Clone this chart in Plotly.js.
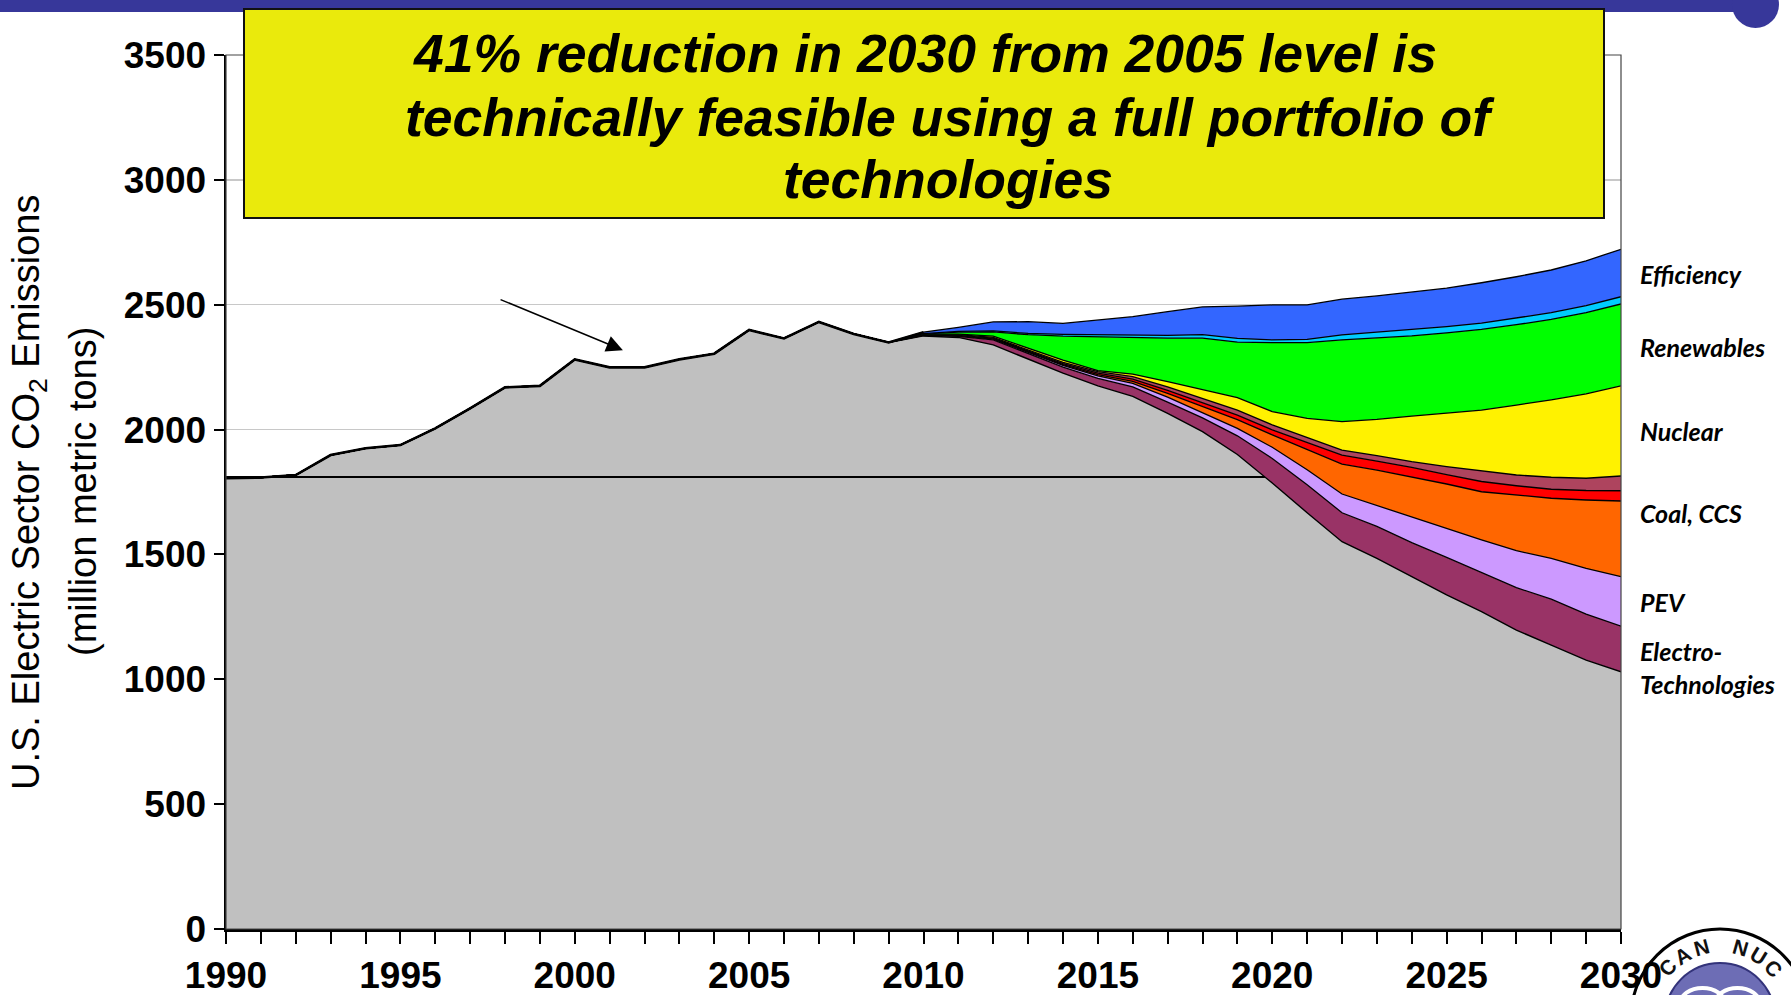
<!DOCTYPE html>
<html>
<head>
<meta charset="utf-8">
<script src="https://cdn.plot.ly/plotly-3.0.1.min.js"></script>
<style>
html,body{margin:0;padding:0;background:#fff;}
#chart{width:1791px;height:995px;}
</style>
</head>
<body>
<div id="chart"></div>
<script>
// ---------------- DATA ----------------
const years = [1990,1991,1992,1993,1994,1995,1996,1997,1998,1999,2000,2001,2002,2003,2004,2005,2006,2007,2008,2009,
               2010,2011,2012,2013,2014,2015,2016,2017,2018,2019,2020,2021,2022,2023,2024,2025,2026,2027,2028,2029,2030];
const projYears = [2010,2011,2012,2013,2014,2015,2016,2017,2018,2019,2020,2021,2022,2023,2024,2025,2026,2027,2028,2029,2030];

// remaining U.S. electric sector CO2 emissions (million metric tons)
const remaining = [1805,1808,1818,1898,1925,1938,2005,2085,2169,2175,2281,2249,2249,2281,2304,2399,2365,2431,2383,2349,
                   2375,2369,2339,2281,2226,2175,2133,2065,1992,1900,1786,1667,1551,1484,1411,1338,1271,1197,1137,1077,1030];

// reductions by technology, 2010-2030 (million metric tons)
const electroTech  = [2,4,20,22,24,30,38,45,55,75,98,112,116,128,136,150,156,170,184,184,183];
const pev          = [1,2,3,5,7,10,14,20,22,30,45,60,75,84,102,117,131,148,163,183,198];
const ccs          = [1,1,2,3,3,5,8,15,22,35,50,82,120,142,162,177,193,223,241,274,303];
const advancedCoal = [1,2,2,4,4,6,9,12,15,18,20,27,36,36,38,38,41,37,36,38,41];
const fossilEff    = [1,2,3,4,5,6,10,14,18,20,20,20,20,22,23,32,44,43,48,49,59];
const nuclear      = [1,2,5,6,9,4,10,21,35,50,53,77,114,145,182,213,242,280,310,338,361];
const renewables   = [1,8,17,55,96,135,148,174,207,222,276,303,327,326,321,322,323,322,322,325,328];
const distributed  = [1,3,4,5,7,8,9,11,14,15,11,13,20,22,24,25,25,26,27,28,29];
const efficiency   = [6,16,36,47,44,60,73,95,111,129,140,138,143,146,153,154,162,166,171,180,190];

const level1990 = 1810;

const xTickVals = [1990,1995,2000,2005,2010,2015,2020,2025,2030];
const xTickText = ['1990','1995','2000','2005','2010','2015','2020','2025','2030'];
const yTickVals = [0,500,1000,1500,2000,2500,3000,3500];
const yTickText = ['0','500','1000','1500','2000','2500','3000','3500'];

const titleLines = ['41% reduction in 2030 from 2005 level is',
                    'technically feasible using a full portfolio of',
                    'technologies'];
const sideLabels = ['Efficiency','Renewables','Nuclear','Coal, CCS','PEV','Electro-<br>Technologies'];
const yTitleLines = ['U.S. Electric Sector CO<sub>2</sub> Emissions', '(million metric tons)'];
const logoText = 'CAN NUC';

// ---------------- LAYOUT HELPERS ----------------
const W = 1791, H = 995, ML = 226, MR = 170, MT = 55, MB = 66;
const PW = W - ML - MR, PH = H - MT - MB;
const px2x = p => (p - ML) / PW;
const py2y = p => (H - MB - p) / PH;
const FONT = 'Liberation Sans, Arial, Helvetica, sans-serif';
const LABFONT = 'Lato, Carlito, Calibri, sans-serif';

// ---------------- TRACES ----------------
const layerDefs = [
  {name:'Electro-Technologies', y: electroTech,  color:'#993366'},
  {name:'PEV',                  y: pev,          color:'#CC99FF'},
  {name:'CCS',                  y: ccs,          color:'#FF6600'},
  {name:'Advanced Coal',        y: advancedCoal, color:'#FF0000'},
  {name:'Fossil Efficiency',    y: fossilEff,    color:'#AE445E'},
  {name:'Nuclear',              y: nuclear,      color:'#FFF200'},
  {name:'Renewables',           y: renewables,   color:'#00FF00'},
  {name:'Distributed Resources',y: distributed,  color:'#00CCFF'},
  {name:'Efficiency',           y: efficiency,   color:'#3366FF'}
];

const traces = [];
traces.push({
  type:'scatter', mode:'lines', name:'Remaining emissions',
  x: years, y: remaining, stackgroup:'s', stackgaps:'infer zero',
  fillcolor:'#C0C0C0', line:{color:'#000', width:1.4}, hoverinfo:'x+y'
});
layerDefs.forEach(d => {
  traces.push({
    type:'scatter', mode:'lines', name:d.name,
    x: projYears, y: d.y, stackgroup:'s',
    fillcolor:d.color, line:{color:'#000', width:1.3}, hoverinfo:'x+y+name'
  });
});

// thick history outline
const histIdx = years.indexOf(2010);
traces.push({
  type:'scatter', mode:'lines', name:'History',
  x: years.slice(0, histIdx + 1),
  y: remaining.slice(0, histIdx).concat([remaining[histIdx] + layerDefs.reduce((s,d)=>s+d.y[0],0)]),
  line:{color:'#000', width:2.6}, hoverinfo:'skip', showlegend:false
});

// 1990-level reference line, visible until the remaining emissions cross it
let crossX = years[years.length-1];
for (let i = histIdx; i < years.length - 1; i++) {
  if (remaining[i] >= level1990 && remaining[i+1] < level1990) {
    crossX = years[i] + (remaining[i] - level1990) / (remaining[i] - remaining[i+1]);
    break;
  }
}
traces.push({
  type:'scatter', mode:'lines', name:'1990 level',
  x:[years[0], crossX], y:[level1990, level1990],
  line:{color:'#000', width:2}, hoverinfo:'skip', showlegend:false
});

// ---------------- ANNOTATIONS ----------------
const annotations = [];
const titleX = [px2x(925), px2x(950), px2x(948)];
const titleY = [py2y(54), py2y(117), py2y(179)];
titleLines.forEach((t,i) => {
  annotations.push({
    text:'<b><i>'+t+'</i></b>', xref:'paper', yref:'paper',
    x:titleX[i], y:titleY[i], xanchor:'center', yanchor:'middle', showarrow:false,
    font:{family:FONT, size:53.5, color:'#000'}
  });
});

// y-axis title (two lines)
const yTitleX = [px2x(29), px2x(83)];
yTitleLines.forEach((t,i) => {
  annotations.push({
    text:t, xref:'paper', yref:'paper', x:yTitleX[i], y:0.5,
    xanchor:'center', yanchor:'middle', textangle:-90, showarrow:false,
    font:{family:FONT, size:38, color:'#000'}
  });
});

// arrow
annotations.push({
  xref:'x', yref:'y', axref:'x', ayref:'y',
  x:2001.38, y:2318, ax:1997.83, ay:2523,
  text:'', showarrow:true, arrowhead:2, arrowsize:2.2, arrowwidth:1.5, arrowcolor:'#000'
});

// side labels
const sideY = [2623, 2331, 1994, 1666, 1310, 1049];
sideLabels.forEach((t,i) => {
  annotations.push({
    text:'<b><i>'+t+'</i></b>', xref:'paper', yref:'y',
    x:px2x(1638), y:sideY[i], xanchor:'left', yanchor:'middle', align:'left',
    showarrow:false, font:{family:LABFONT, size:25, color:'#000'}
  });
});

// logo lettering
const logoCx = 1720, logoCy = 1018, logoR = 73;
const startAng = -46, stepAng = 15.5;
for (let i = 0; i < logoText.length; i++) {
  const ch = logoText[i];
  if (ch === ' ') continue;
  const ang = startAng + i*stepAng;
  const a = ang * Math.PI/180;
  const px = logoCx + logoR*Math.sin(a), py = logoCy - logoR*Math.cos(a);
  annotations.push({
    text:'<b>'+ch+'</b>', xref:'paper', yref:'paper', x:px2x(px), y:py2y(py),
    xanchor:'center', yanchor:'middle', showarrow:false, textangle:ang,
    font:{family:FONT, size:21, color:'#111'}
  });
}

// ---------------- SHAPES ----------------
const shapes = [
  // top banner
  {type:'rect', xref:'paper', yref:'paper', x0:px2x(0), x1:px2x(1760), y0:py2y(12), y1:py2y(-2),
   fillcolor:'#37379A', line:{width:0}, layer:'above'},
  {type:'circle', xref:'paper', yref:'paper', x0:px2x(1732), x1:px2x(1779), y0:py2y(28), y1:py2y(-19),
   fillcolor:'#37379A', line:{width:0}, layer:'above'},
  // plot frame (top/right)
  {type:'rect', xref:'paper', yref:'paper', x0:0, x1:1, y0:0, y1:1,
   line:{color:'#444', width:1.2}, fillcolor:'rgba(0,0,0,0)', layer:'above'},
  // title box
  {type:'rect', xref:'paper', yref:'paper', x0:px2x(244), x1:px2x(1604), y0:py2y(218), y1:py2y(9),
   fillcolor:'#EAEA0C', line:{color:'#111', width:2}, layer:'above'},
  // logo (below the tick labels)
  {type:'circle', xref:'paper', yref:'paper', x0:px2x(logoCx-89), x1:px2x(logoCx+89), y0:py2y(logoCy+89), y1:py2y(logoCy-89),
   fillcolor:'#FFFFFF', line:{color:'#000', width:3}, layer:'below'},
  {type:'circle', xref:'paper', yref:'paper', x0:px2x(logoCx-55), x1:px2x(logoCx+55), y0:py2y(logoCy+55), y1:py2y(logoCy-55),
   fillcolor:'#6D6DB5', line:{color:'#33337A', width:2}, layer:'below'},
  {type:'circle', xref:'paper', yref:'paper', x0:px2x(logoCx-40), x1:px2x(logoCx+5), y0:py2y(logoCy+2), y1:py2y(logoCy-30),
   fillcolor:'rgba(0,0,0,0)', line:{color:'#FFFFFF', width:4}, layer:'below'},
  {type:'circle', xref:'paper', yref:'paper', x0:px2x(logoCx-5), x1:px2x(logoCx+40), y0:py2y(logoCy+2), y1:py2y(logoCy-30),
   fillcolor:'rgba(0,0,0,0)', line:{color:'#FFFFFF', width:4}, layer:'below'}
];

// ---------------- LAYOUT ----------------
const layout = {
  width:W, height:H,
  margin:{l:ML, r:MR, t:MT, b:MB, pad:0},
  paper_bgcolor:'#FFFFFF', plot_bgcolor:'#FFFFFF',
  showlegend:false,
  font:{family:FONT, color:'#000'},
  xaxis:{
    range:[1990,2030], tickmode:'array', tickvals:xTickVals, ticktext:xTickText,
    ticks:'outside', ticklen:12, tickwidth:2, tickcolor:'#000',
    minor:{dtick:1, tick0:1990, ticks:'outside', ticklen:12, tickwidth:2, tickcolor:'#000', showgrid:false},
    showline:true, linecolor:'#000', linewidth:2.5, showgrid:false, zeroline:false,
    tickfont:{family:FONT, size:37, weight:'bold', color:'#000'}, fixedrange:true
  },
  yaxis:{
    range:[0,3500], tickmode:'array', tickvals:yTickVals, ticktext:yTickText,
    ticks:'outside', ticklen:10, tickwidth:2, tickcolor:'#000',
    showline:true, linecolor:'#000', linewidth:2.5,
    showgrid:true, gridcolor:'#C8C8C8', gridwidth:1.5, zeroline:false,
    tickfont:{family:FONT, size:37, weight:'bold', color:'#000'},
    fixedrange:true
  },
  shapes:shapes,
  annotations:annotations
};

Plotly.newPlot('chart', traces, layout, {displayModeBar:false, staticPlot:true});
</script>
</body>
</html>
